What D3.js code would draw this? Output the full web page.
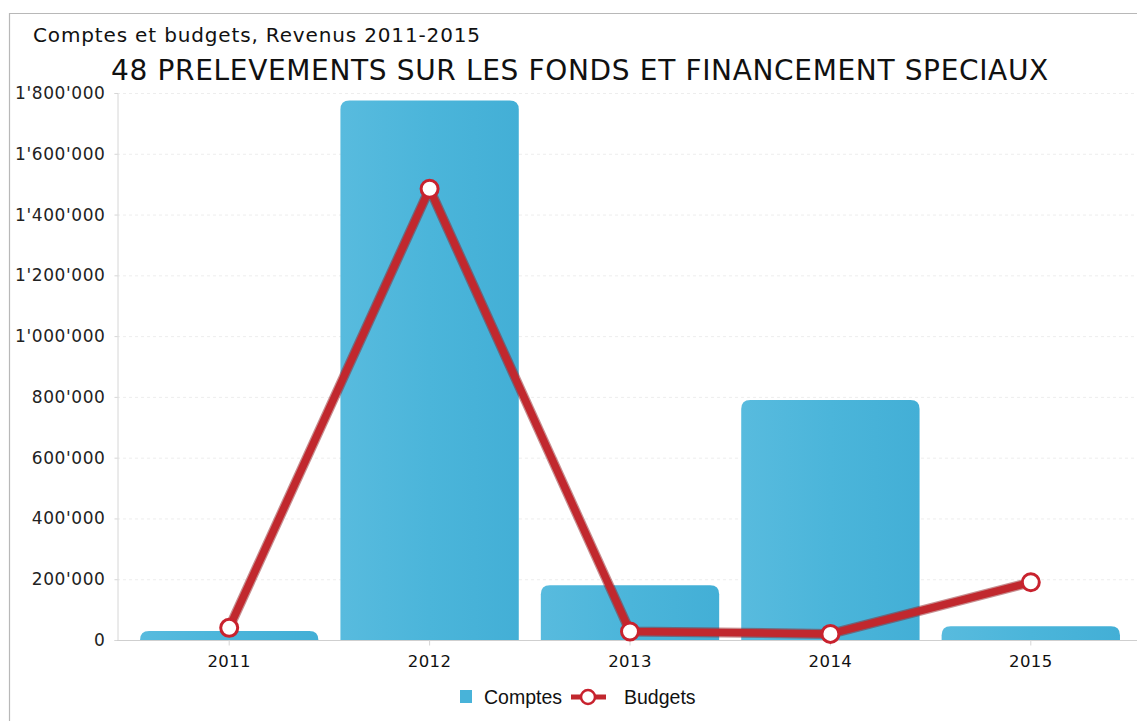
<!DOCTYPE html>
<html>
<head>
<meta charset="utf-8">
<script src="https://cdn.jsdelivr.net/npm/d3@7"></script>
<style>
  html, body { margin: 0; padding: 0; background: #fff; }
  svg { display: block; }
</style>
</head>
<body>
<svg id="chart" width="1137" height="721"></svg>
<script>
// Data: comptes (bars) and budgets (line), in francs
const years = ["2011", "2012", "2013", "2014", "2015"];
const comptes = [30000, 1775000, 180000, 790000, 45000];
const budgets = [40000, 1485000, 28000, 20000, 190000];
const yTicks = [0, 200000, 400000, 600000, 800000, 1000000, 1200000, 1400000, 1600000, 1800000];
const subtitle = "Comptes et budgets, Revenus 2011-2015";
const title = "48 PRELEVEMENTS SUR LES FONDS ET FINANCEMENT SPECIAUX";
const seriesNames = ["Comptes", "Budgets"];

const svg = d3.select("#chart");
const W = 1137, H = 721;
const plot = { left: 117, right: 1137, top: 93, bottom: 640 };

const fmt = d3.formatLocale({ decimal: ".", thousands: "'", grouping: [3], currency: ["", ""] }).format(",");

const x = d3.scaleBand()
  .domain(years)
  .range([129, 1131])
  .paddingInner(0.11)
  .paddingOuter(0.055);

const y = d3.scaleLinear()
  .domain([0, 1800000])
  .range([plot.bottom, plot.top]);

// Gradient for bars
const defs = svg.append("defs");
const grad = defs.append("linearGradient").attr("id", "barGrad")
  .attr("x1", "0%").attr("x2", "100%").attr("y1", "0%").attr("y2", "0%");
grad.append("stop").attr("offset", "0%").attr("stop-color", "#58bbde");
grad.append("stop").attr("offset", "50%").attr("stop-color", "#4bb5da");
grad.append("stop").attr("offset", "100%").attr("stop-color", "#43afd6");

// Outer frame
svg.append("path")
  .attr("d", `M9.5,${H} V13.5 H${W}`)
  .attr("fill", "none").attr("stroke", "#b8b8b8").attr("stroke-width", 1.2);

// Titles
svg.append("text")
  .attr("x", 33).attr("y", 42)
  .attr("font-family", "DejaVu Sans, Verdana, sans-serif")
  .attr("font-size", 20).attr("letter-spacing", 0.85).attr("fill", "#111")
  .text(subtitle);

svg.append("text")
  .attr("x", 580).attr("y", 80)
  .attr("text-anchor", "middle")
  .attr("font-family", "DejaVu Sans, Verdana, sans-serif")
  .attr("font-size", 28).attr("letter-spacing", 0.65).attr("fill", "#111")
  .text(title);

// Faint gridlines
svg.append("g")
  .selectAll("line")
  .data(yTicks.filter(d => d > 0))
  .join("line")
  .attr("x1", plot.left).attr("x2", plot.right)
  .attr("y1", d => y(d) + 0.5).attr("y2", d => y(d) + 0.5)
  .attr("stroke", "#ededed").attr("stroke-dasharray", "3,3");

// Y axis
const yAxis = svg.append("g")
  .attr("transform", `translate(${plot.left + 0.5},0)`)
  .call(d3.axisLeft(y).tickValues(yTicks).tickFormat(fmt).tickSize(3).tickPadding(9));
yAxis.select(".domain").attr("stroke", "#d6d6d6");
yAxis.selectAll(".tick line").attr("stroke", "#d6d6d6");
yAxis.selectAll("text")
  .attr("font-family", "DejaVu Sans, Verdana, sans-serif")
  .attr("font-size", 17).attr("letter-spacing", 0.6).attr("fill", "#222");

// Bars with rounded tops
function roundedTop(x0, y0, w, h, r) {
  r = Math.min(r, h, w / 2);
  return `M${x0},${y0 + h} V${y0 + r} Q${x0},${y0} ${x0 + r},${y0} H${x0 + w - r} Q${x0 + w},${y0} ${x0 + w},${y0 + r} V${y0 + h} Z`;
}
svg.append("g")
  .selectAll("path")
  .data(years.map((yr, i) => ({ yr, v: comptes[i] })))
  .join("path")
  .attr("d", d => roundedTop(x(d.yr), y(d.v), x.bandwidth(), y(0) - y(d.v), 9))
  .attr("fill", "url(#barGrad)");

// X axis
const xAxis = svg.append("g")
  .attr("transform", `translate(0,${plot.bottom + 0.5})`)
  .call(d3.axisBottom(x).tickSize(5).tickPadding(10));
xAxis.select(".domain").attr("d", `M${plot.left},0 H${plot.right}`).attr("stroke", "#cfcfcf");
xAxis.selectAll(".tick line").attr("stroke", "#d6d6d6");
xAxis.selectAll("text")
  .attr("font-family", "DejaVu Sans, Verdana, sans-serif")
  .attr("font-size", 16.5).attr("letter-spacing", 0.4).attr("fill", "#111");

// Budget line
const cx = d => x(d.yr) + x.bandwidth() / 2;
const pts = years.map((yr, i) => ({ yr, v: budgets[i] }));
const line = d3.line().x(cx).y(d => y(d.v));
svg.append("path")
  .datum(pts)
  .attr("d", line)
  .attr("fill", "none")
  .attr("stroke", "#8f1d22").attr("stroke-width", 10)
  .attr("stroke-linejoin", "round").attr("opacity", 0.5);
svg.append("path")
  .datum(pts)
  .attr("d", line)
  .attr("fill", "none")
  .attr("stroke", "#c1282e").attr("stroke-width", 7.5)
  .attr("stroke-linejoin", "round");
svg.append("g")
  .selectAll("circle")
  .data(pts)
  .join("circle")
  .attr("cx", cx).attr("cy", d => y(d.v))
  .attr("r", 8.5)
  .attr("fill", "#fff").attr("stroke", "#c8222e").attr("stroke-width", 3);

// Legend
const lg = svg.append("g").attr("font-family", "Liberation Sans, Arial, sans-serif").attr("font-size", 19.5).attr("fill", "#111");
lg.append("rect").attr("x", 460).attr("y", 690).attr("width", 12).attr("height", 13).attr("fill", "#48b3d9");
lg.append("text").attr("x", 484).attr("y", 704).text(seriesNames[0]);
lg.append("line").attr("x1", 571).attr("x2", 606).attr("y1", 697).attr("y2", 697)
  .attr("stroke", "#c1282e").attr("stroke-width", 5);
lg.append("circle").attr("cx", 588).attr("cy", 697).attr("r", 7)
  .attr("fill", "#fff").attr("stroke", "#c8222e").attr("stroke-width", 2.5);
lg.append("text").attr("x", 624).attr("y", 704).text(seriesNames[1]);
</script>
</body>
</html>
